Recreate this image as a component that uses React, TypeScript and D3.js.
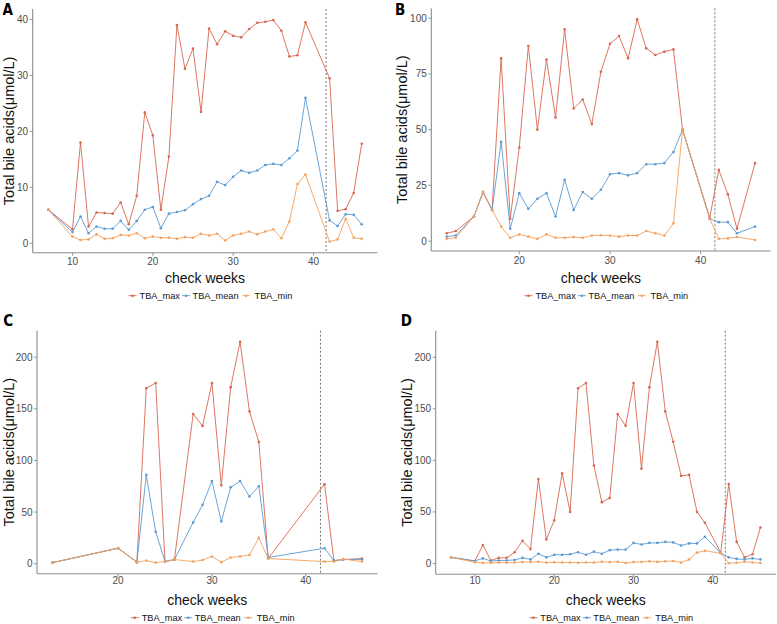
import * as d3 from "d3";
import React from "react";

// series shared by all four panels
const seriesNames = ["TBA_max", "TBA_mean", "TBA_min"];
const seriesColors = ["#D8674F", "#5B9AD2", "#F4A25E"];
const cutoffWeek = 41.57;

// panel A
const weeksA = [7, 10, 11, 12, 13, 14, 15, 16, 17, 18, 19, 20, 21, 22, 23, 24, 25, 26, 27, 28, 29, 30, 31, 32, 33, 34, 35, 36, 37, 38, 39, 42, 43, 44, 45, 46];
const maxA = [6, 2.5, 18, 3, 5.5, 5.4, 5.3, 7.3, 3.4, 8.5, 23.4, 19.3, 6, 15.5, 39, 31.2, 34.8, 23.5, 38.4, 35.6, 37.9, 37.1, 36.8, 38.3, 39.4, 39.6, 39.9, 38, 33.4, 33.6, 39.5, 29.5, 5.8, 6.1, 9, 17.8];
const meanA = [6, 2, 4.8, 1.8, 3, 2.6, 2.6, 4, 2.4, 4, 6, 6.5, 2.7, 5.3, 5.6, 5.9, 7, 7.9, 8.5, 11, 10.4, 11.9, 13, 12.6, 13, 14, 14.2, 14, 15.2, 16.6, 26, 4.1, 3.1, 5.2, 5.1, 3.4];
const minA = [6, 1.2, 0.6, 0.7, 1.6, 0.8, 0.9, 1.5, 1.4, 1.8, 0.9, 1.2, 1, 1, 0.8, 1.1, 1, 1.7, 1.4, 1.7, 0.5, 1.4, 1.7, 2.1, 1.6, 2.1, 2.5, 0.9, 3.9, 10.6, 12.3, 0.3, 0.7, 4.4, 1, 0.8];
const xTicksA = [10, 20, 30, 40];
const yTicksA = [0, 10, 20, 30, 40];

// panel B
const weeksB = [12, 13, 15, 16, 17, 18, 19, 20, 21, 22, 23, 24, 25, 26, 27, 28, 29, 30, 31, 32, 33, 34, 35, 36, 37, 38, 41, 42, 43, 44, 46];
const maxB = [3.5, 4.5, 11, 22, 14, 82, 10, 42, 87.5, 50, 81.5, 55.5, 95, 59.5, 63.5, 52.5, 76, 88.5, 92, 82, 99.5, 86.5, 83.5, 85, 86, 50, 10.5, 32, 21, 5.5, 35];
const meanB = [2, 2.5, 11, 22, 14, 44.5, 5.5, 21.5, 14.5, 19, 21.5, 11, 27.5, 14, 22, 19, 23, 30, 30.5, 29.5, 30.5, 34.5, 34.5, 35, 40, 50, 10, 8.5, 8.5, 3.5, 6.5];
const minB = [1, 1.5, 11, 22, 14, 6.5, 1.5, 3, 2, 1, 3, 1.5, 1.5, 1.8, 1.5, 2.5, 2.6, 2.5, 2, 2.5, 2.5, 4.5, 3.5, 2.5, 8, 50, 10, 1, 1.2, 1.8, 0.5];
const xTicksB = [20, 30, 40];
const yTicksB = [0, 25, 50, 75, 100];

// panel C
const weeksC = [13, 20, 22, 23, 24, 25, 26, 28, 29, 30, 31, 32, 33, 34, 35, 36, 42, 43, 44, 46];
const maxC = [1, 15, 1.5, 170, 175, 2, 4, 145, 133.5, 175, 76, 171, 215, 147.5, 118, 5, 77, 3, 4, 5];
const meanC = [1, 15, 1.5, 86, 31, 2, 4, 40, 57, 80, 41, 74, 80, 65, 75, 6, 15, 3, 4, 4];
const minC = [1, 15, 1.5, 3, 1, 2, 4, 2, 3.5, 7, 1.5, 6, 7, 8.5, 25, 5, 2, 2, 4.5, 2];
const xTicksC = [20, 30, 40];
const yTicksC = [0, 50, 100, 150, 200];

// panel D (all groups)
const weeksD = [7, 10, 11, 12, 13, 14, 15, 16, 17, 18, 19, 20, 21, 22, 23, 24, 25, 26, 27, 28, 29, 30, 31, 32, 33, 34, 35, 36, 37, 38, 39, 41, 42, 43, 44, 45, 46];
const maxD = [6, 2.5, 18, 3, 5.5, 5.5, 11, 22, 14, 82, 23.4, 42, 87.5, 50, 170, 175, 95, 59.5, 63.5, 145, 133.5, 175, 92, 171, 215, 147.5, 118, 85, 86, 50, 39.5, 10.5, 77, 21, 6.1, 9, 35];
const meanD = [6, 2.5, 5, 2.5, 3, 3, 3.5, 5.5, 4, 9.5, 6, 8.5, 8.5, 9, 11, 8.5, 11.5, 9.5, 13, 13.5, 13.5, 20, 18.5, 20, 20, 21, 20.5, 17.5, 19.5, 19.5, 26, 10, 6, 4.5, 4, 5, 4];
const minD = [6, 1.2, 0.6, 0.7, 1, 0.8, 0.9, 1.5, 1.4, 1.8, 0.9, 1.2, 1, 1, 0.8, 1, 1, 1.7, 1.4, 1.7, 0.5, 1.4, 1.5, 2.1, 1.6, 2.1, 2.5, 0.9, 3.9, 10.6, 12.3, 10, 0.3, 0.7, 1.8, 1, 0.5];
const xTicksD = [10, 20, 30, 40];
const yTicksD = [0, 50, 100, 150, 200];

const font = "'Liberation Sans', Arial, sans-serif";

interface Box {
  left: number;
  right: number;
  top: number;
  bottom: number;
  letterX: number;
  letterY: number;
  yTitleX: number;
  tickY: number;
  titleY: number;
  legendY: number;
}

interface PanelProps {
  label: string;
  weeks: number[];
  series: number[][];
  xTicks: number[];
  yTicks: number[];
  box: Box;
}

// ggplot-like 5% padding
const expand = (ext: [number, number]): [number, number] => {
  const pad = (ext[1] - ext[0]) * 0.05;
  return [ext[0] - pad, ext[1] + pad];
};

const Panel = ({ label, weeks, series, xTicks, yTicks, box }: PanelProps) => {
  const x = d3
    .scaleLinear()
    .domain(expand(d3.extent(weeks) as [number, number]))
    .range([box.left, box.right]);
  const y = d3
    .scaleLinear()
    .domain(expand(d3.extent(series.flat()) as [number, number]))
    .range([box.bottom, box.top]);

  const line = d3
    .line<number>()
    .x((_, i) => x(weeks[i]))
    .y((d) => y(d));

  const cx = (box.left + box.right) / 2 + 2.5;
  const keyOffsets = [-75, -21.5, 38.5];
  const textOffsets = [-68, -15, 47];

  return (
    <g fontFamily={font}>
      <text
        x={box.letterX}
        y={box.letterY}
        fontSize={15}
        fontWeight="bold"
        fontFamily="'DejaVu Sans Condensed', 'Liberation Sans Narrow', sans-serif"
        fontStretch="condensed"
        fill="#000"
      >
        {label}
      </text>

      {/* cutoff */}
      <line
        x1={x(cutoffWeek)}
        x2={x(cutoffWeek)}
        y1={box.top}
        y2={box.bottom}
        stroke="#666"
        strokeWidth={0.9}
        strokeDasharray="2,2"
      />

      {series.map((vals, si) => (
        <g key={seriesNames[si]}>
          <path d={line(vals) ?? ""} fill="none" stroke={seriesColors[si]} strokeWidth={0.9} />
          {vals.map((v, i) => (
            <circle key={i} cx={x(weeks[i])} cy={y(v)} r={1.3} fill={seriesColors[si]} />
          ))}
        </g>
      ))}

      {/* axes */}
      <line x1={box.left} x2={box.left} y1={box.top} y2={box.bottom} stroke="#8c8c8c" strokeWidth={1.1} />
      <line x1={box.left} x2={box.right} y1={box.bottom} y2={box.bottom} stroke="#8c8c8c" strokeWidth={1.1} />
      {yTicks.map((t) => (
        <g key={t}>
          <line x1={box.left - 3} x2={box.left} y1={y(t)} y2={y(t)} stroke="#8c8c8c" strokeWidth={0.9} />
          <text x={box.left - 4.5} y={y(t)} dy="0.35em" textAnchor="end" fontSize={10} fill="#4d4d4d">
            {t}
          </text>
        </g>
      ))}
      {xTicks.map((t) => (
        <g key={t}>
          <line x1={x(t)} x2={x(t)} y1={box.bottom} y2={box.bottom + 3} stroke="#8c8c8c" strokeWidth={0.9} />
          <text x={x(t)} y={box.tickY} textAnchor="middle" fontSize={10} fill="#4d4d4d">
            {t}
          </text>
        </g>
      ))}

      <text x={(box.left + box.right) / 2} y={box.titleY} textAnchor="middle" fontSize={14} fill="#111">
        check weeks
      </text>
      <text
        transform={`translate(${box.yTitleX},${(box.top + box.bottom) / 2}) rotate(-90)`}
        textAnchor="middle"
        fontSize={14.5}
        fill="#111"
      >
        Total bile acids(μmol/L)
      </text>

      {/* legend */}
      {seriesNames.map((name, si) => (
        <g key={name}>
          <line
            x1={cx + keyOffsets[si] - 4}
            x2={cx + keyOffsets[si] + 4}
            y1={box.legendY}
            y2={box.legendY}
            stroke={seriesColors[si]}
            strokeWidth={0.9}
          />
          <circle cx={cx + keyOffsets[si]} cy={box.legendY} r={1.3} fill={seriesColors[si]} />
          <text x={cx + textOffsets[si]} y={box.legendY} dy="0.35em" fontSize={9.2} fill="#111">
            {name}
          </text>
        </g>
      ))}
    </g>
  );
};

const boxA: Box = { left: 32.7, right: 377.4, top: 9, bottom: 252.7, letterX: 2.5, letterY: 14.5, yTitleX: 13.5, tickY: 264.5, titleY: 283, legendY: 295.7 };
const boxB: Box = { left: 431.3, right: 770.5, top: 8.3, bottom: 251, letterX: 395, letterY: 15, yTitleX: 406.5, tickY: 263.5, titleY: 282.5, legendY: 295.7 };
const boxC: Box = { left: 37, right: 377.5, top: 330.7, bottom: 573.7, letterX: 3.3, letterY: 326, yTitleX: 13.5, tickY: 584, titleY: 605, legendY: 617.7 };
const boxD: Box = { left: 435.7, right: 775.9, top: 330.7, bottom: 574.3, letterX: 400.7, letterY: 326, yTitleX: 412, tickY: 584.3, titleY: 605, legendY: 617.7 };

export default function App() {
  return (
    <svg
      width={777}
      height={624}
      style={{ position: "absolute", left: 0, top: 0, background: "#fff" }}
    >
      <rect width={777} height={624} fill="#fff" />
      <Panel label="A" weeks={weeksA} series={[maxA, meanA, minA]} xTicks={xTicksA} yTicks={yTicksA} box={boxA} />
      <Panel label="B" weeks={weeksB} series={[maxB, meanB, minB]} xTicks={xTicksB} yTicks={yTicksB} box={boxB} />
      <Panel label="C" weeks={weeksC} series={[maxC, meanC, minC]} xTicks={xTicksC} yTicks={yTicksC} box={boxC} />
      <Panel label="D" weeks={weeksD} series={[maxD, meanD, minD]} xTicks={xTicksD} yTicks={yTicksD} box={boxD} />
    </svg>
  );
}
